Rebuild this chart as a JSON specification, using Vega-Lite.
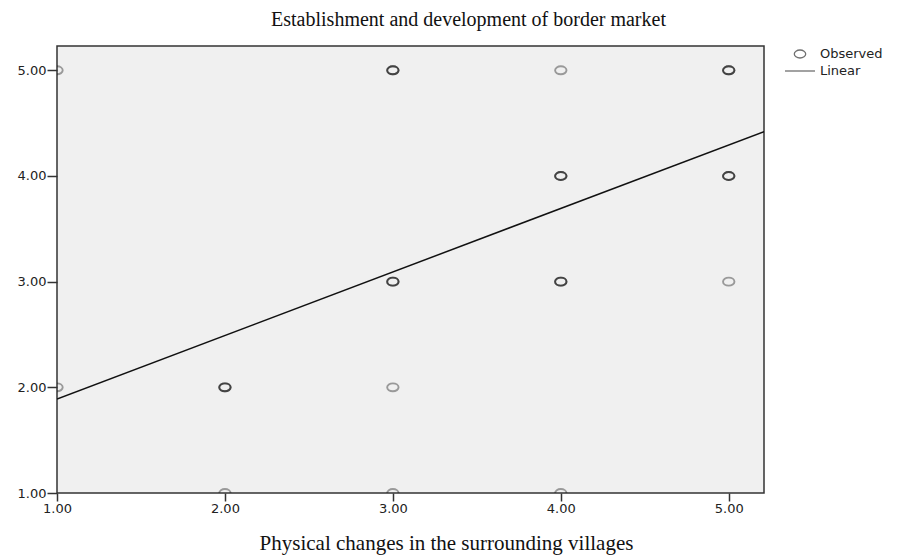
{
  "$schema": "https://vega.github.io/schema/vega-lite/v6.json",
  "autosize": "none",
  "width": 707,
  "height": 447,
  "padding": {"left": 57, "top": 46, "right": 134, "bottom": 63},
  "background": "white",
  "config": {
    "view": {"fill": "#f0f0f0", "stroke": "#333333", "strokeWidth": 1.5},
    "axis": {
      "labelFont": "DejaVu Sans",
      "labelFontSize": 13,
      "labelColor": "#222222",
      "labelFlush": false,
      "tickColor": "#333333",
      "tickWidth": 1.5,
      "domain": false,
      "grid": false,
      "titleFont": "Liberation Serif",
      "titleFontWeight": "normal",
      "titleColor": "#111111"
    },
    "legend": {
      "labelFont": "DejaVu Sans",
      "labelFontSize": 13,
      "labelColor": "#222222"
    }
  },
  "datasets": {
    "observed": [
      {"x": 1, "y": 5}, {"x": 1, "y": 2},
      {"x": 2, "y": 2}, {"x": 2, "y": 2}, {"x": 2, "y": 2}, {"x": 2, "y": 1},
      {"x": 3, "y": 5}, {"x": 3, "y": 5}, {"x": 3, "y": 5},
      {"x": 3, "y": 3}, {"x": 3, "y": 3}, {"x": 3, "y": 3},
      {"x": 3, "y": 2}, {"x": 3, "y": 1},
      {"x": 4, "y": 5},
      {"x": 4, "y": 4}, {"x": 4, "y": 4}, {"x": 4, "y": 4},
      {"x": 4, "y": 3}, {"x": 4, "y": 3}, {"x": 4, "y": 3},
      {"x": 4, "y": 1},
      {"x": 5, "y": 5}, {"x": 5, "y": 5}, {"x": 5, "y": 5},
      {"x": 5, "y": 4}, {"x": 5, "y": 4}, {"x": 5, "y": 4},
      {"x": 5, "y": 3}
    ],
    "fit": [
      {"x": 1, "y": 1.89},
      {"x": 5.21, "y": 4.42}
    ]
  },
  "layer": [
    {
      "data": {"name": "fit"},
      "mark": {"type": "line", "color": "#111111", "strokeWidth": 1.5, "clip": true},
      "encoding": {
        "x": {"field": "x", "type": "quantitative"},
        "y": {"field": "y", "type": "quantitative"}
      }
    },
    {
      "data": {"name": "observed"},
      "transform": [{"calculate": "'Observed'", "as": "series"}],
      "mark": {"type": "point", "filled": false, "stroke": "#111111", "strokeWidth": 1.9, "strokeOpacity": 0.55, "clip": true},
      "encoding": {
        "x": {
          "field": "x", "type": "quantitative",
          "scale": {"domain": [1, 5.21], "nice": false, "zero": false},
          "axis": {
            "values": [1, 2, 3, 4, 5], "format": ".2f", "tickSize": 8, "labelPadding": 1,
            "title": "Physical changes in the surrounding villages", "titleFontSize": 21,
            "titleX": 389, "titleY": 50, "titleAlign": "center", "titleBaseline": "middle"
          }
        },
        "y": {
          "field": "y", "type": "quantitative",
          "scale": {"domain": [1, 5.23], "nice": false, "zero": false},
          "axis": {
            "values": [1, 2, 3, 4, 5], "format": ".2f", "tickSize": 10, "labelPadding": 1,
            "title": "Establishment and development of border market", "titleFontSize": 20,
            "titleAngle": 0, "titleX": 411, "titleY": -27, "titleAlign": "center", "titleBaseline": "middle"
          }
        },
        "shape": {
          "field": "series", "type": "nominal",
          "scale": {"domain": ["Observed", "Linear"], "range": ["M -1 0 A 1 0.7 0 1 1 1 0 A 1 0.7 0 1 1 -1 0 Z", "stroke"]},
          "legend": {
            "title": null, "orient": "none", "legendX": 727, "legendY": 0,
            "symbolStrokeColor": "#333333", "symbolFillColor": "transparent", "symbolStrokeWidth": 1.3,
            "rowPadding": 1, "labelOffset": 4, "clipHeight": 16
          }
        },
        "size": {
          "field": "series", "type": "nominal",
          "scale": {"domain": ["Observed", "Linear"], "range": [130, 900]},
          "legend": {
            "title": null, "orient": "none", "legendX": 727, "legendY": 0,
            "symbolStrokeColor": "#333333", "symbolFillColor": "transparent", "symbolStrokeWidth": 1.3,
            "rowPadding": 1, "labelOffset": 4, "clipHeight": 16
          }
        }
      }
    }
  ]
}
